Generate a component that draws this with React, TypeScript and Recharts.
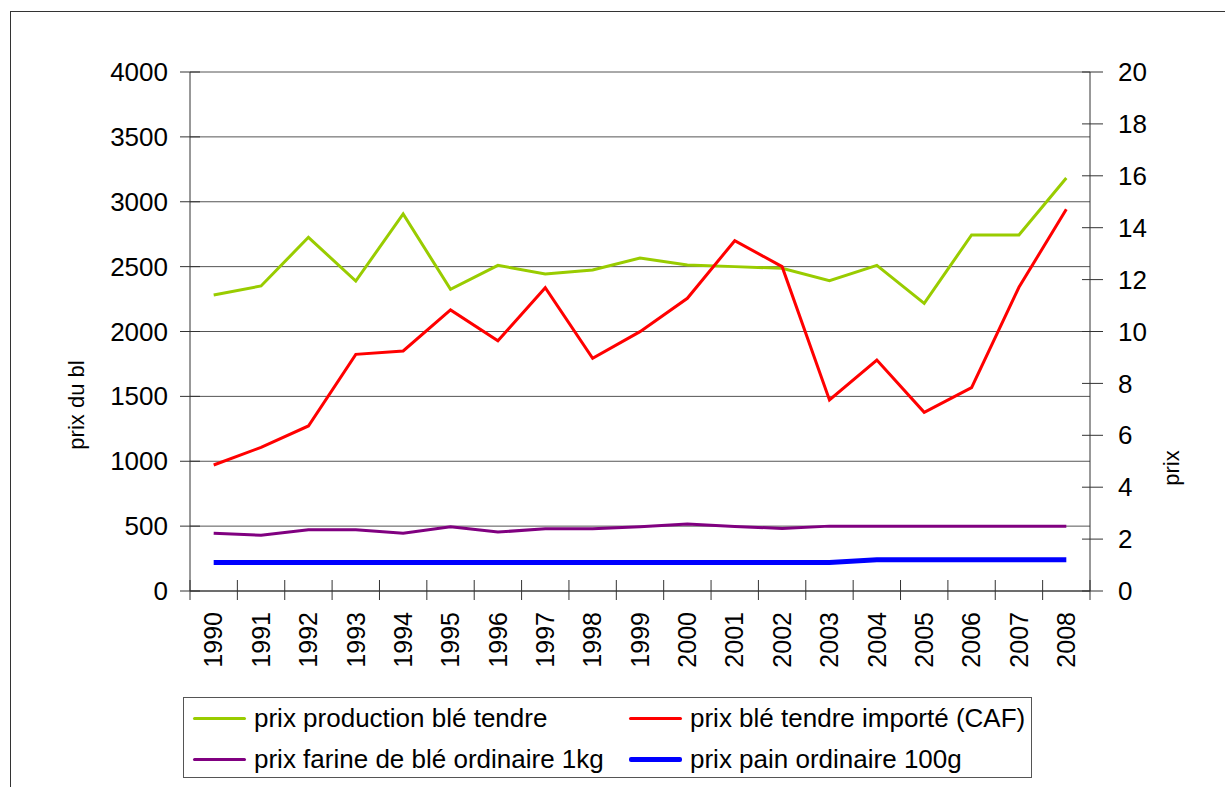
import { ComposedChart, Line, XAxis, YAxis, CartesianGrid } from 'recharts';

const years = ['1990', '1991', '1992', '1993', '1994', '1995', '1996', '1997', '1998', '1999', '2000', '2001', '2002', '2003', '2004', '2005', '2006', '2007', '2008'];
const prixProduction = [2281, 2351, 2726, 2389, 2906, 2325, 2510, 2443, 2474, 2566, 2512, 2500, 2487, 2392, 2510, 2217, 2744, 2744, 3183];
const prixImporte = [971, 1107, 1272, 1824, 1850, 2166, 1929, 2338, 1793, 1999, 2256, 2700, 2500, 1472, 1780, 1377, 1567, 2341, 2942];
const prixFarine = [2.23, 2.15, 2.36, 2.36, 2.23, 2.48, 2.27, 2.4, 2.4, 2.48, 2.58, 2.49, 2.41, 2.5, 2.5, 2.5, 2.5, 2.5, 2.5];
const prixPain = [1.1, 1.1, 1.1, 1.1, 1.1, 1.1, 1.1, 1.1, 1.1, 1.1, 1.1, 1.1, 1.1, 1.1, 1.2, 1.2, 1.2, 1.2, 1.2];

const leftTicks = [0, 500, 1000, 1500, 2000, 2500, 3000, 3500, 4000];
const rightTicks = [0, 2, 4, 6, 8, 10, 12, 14, 16, 18, 20];

const series = [
  { key: 'production', name: 'prix production blé tendre', color: '#99CC00', width: 3, axis: 0 },
  { key: 'importe', name: 'prix blé tendre importé (CAF)', color: '#FF0000', width: 3, axis: 0 },
  { key: 'farine', name: 'prix farine de blé ordinaire 1kg', color: '#800080', width: 3, axis: 'right' },
  { key: 'pain', name: 'prix pain ordinaire 100g', color: '#0000FF', width: 5, axis: 'right' },
];

const data = years.map((year, i) => ({
  year,
  production: prixProduction[i],
  importe: prixImporte[i],
  farine: prixFarine[i],
  pain: prixPain[i],
}));

const FONT = '"Liberation Sans", Arial, sans-serif';
const PLOT_W = 900;
const BAND = PLOT_W / years.length;

const LeftTick = ({ x, y, payload }: any) => (
  <g>
    <line x1={x - 10} x2={x + 10} y1={y} y2={y} stroke="#333" />
    <text x={x - 22} y={y} dy="0.35em" textAnchor="end" fontSize={26} fontFamily={FONT} fill="#000">
      {payload.value}
    </text>
  </g>
);

const RightTick = ({ x, y, payload }: any) => (
  <g>
    <line x1={x - 8} x2={x + 13} y1={y} y2={y} stroke="#333" />
    <text x={x + 28} y={y} dy="0.35em" textAnchor="start" fontSize={26} fontFamily={FONT} fill="#000">
      {payload.value}
    </text>
  </g>
);

const YearTick = ({ x, y, payload, index }: any) => (
  <g>
    <line x1={x - BAND / 2} x2={x - BAND / 2} y1={y - 11} y2={y + 9} stroke="#333" />
    {index === years.length - 1 && (
      <line x1={x + BAND / 2} x2={x + BAND / 2} y1={y - 11} y2={y + 9} stroke="#333" />
    )}
    <text
      x={x}
      y={y + 21}
      dy="0.35em"
      textAnchor="end"
      fontSize={25}
      fontFamily={FONT}
      fill="#000"
      transform={`rotate(-90, ${x}, ${y + 21})`}
    >
      {payload.value}
    </text>
  </g>
);

export default function App() {
  return (
    <div style={{ position: 'absolute', left: 0, top: 0, width: 1225, height: 787, overflow: 'hidden', background: '#fff', fontFamily: FONT }}>
      <div style={{ position: 'absolute', left: 10, top: 11, width: 1400, height: 900, border: '1px solid #333' }} />

      <div style={{ position: 'absolute', left: 0, top: 0 }}>
        <ComposedChart width={1225} height={700} data={data} margin={{ top: 72, right: 55, bottom: 29, left: 110 }}>
          <CartesianGrid vertical={false} stroke="#555" />
          <XAxis
            dataKey="year"
            scale="band"
            interval={0}
            height={80}
            tickLine={false}
            tickSize={0}
            tickMargin={0}
            stroke="#333"
            tick={<YearTick />}
          />
          <YAxis
            domain={[0, 4000]}
            ticks={leftTicks}
            width={80}
            tickLine={false}
            tickSize={0}
            tickMargin={0}
            stroke="#333"
            tick={<LeftTick />}
          />
          <YAxis
            yAxisId="right"
            orientation="right"
            domain={[0, 20]}
            ticks={rightTicks}
            width={80}
            tickLine={false}
            tickSize={0}
            tickMargin={0}
            stroke="#333"
            tick={<RightTick />}
          />
          {series.map((s) => (
            <Line
              key={s.key}
              yAxisId={s.axis}
              dataKey={s.key}
              name={s.name}
              stroke={s.color}
              strokeWidth={s.width}
              dot={false}
              type="linear"
              isAnimationActive={false}
            />
          ))}
        </ComposedChart>
      </div>

      {/* axis titles */}
      <div style={{ position: 'absolute', left: 77, top: 405, transform: 'translate(-50%, -50%) rotate(-90deg)', fontSize: 22, whiteSpace: 'nowrap', color: '#000' }}>
        prix du bl
      </div>
      <div style={{ position: 'absolute', left: 1172, top: 468, transform: 'translate(-50%, -50%) rotate(-90deg)', fontSize: 22, whiteSpace: 'nowrap', color: '#000' }}>
        prix
      </div>

      {/* legend */}
      <div style={{ position: 'absolute', left: 183, top: 697, width: 849, height: 81, boxSizing: 'border-box', border: '1.5px solid #555', background: '#fff' }}>
        {series.map((s, i) => (
          <div
            key={s.key}
            style={{
              position: 'absolute',
              left: i % 2 === 0 ? 9 : 445,
              top: i < 2 ? 20 : 61,
              transform: 'translateY(-50%)',
              display: 'flex',
              alignItems: 'center',
              whiteSpace: 'nowrap',
            }}
          >
            <div style={{ width: 53, height: s.width, background: s.color, borderRadius: 2 }} />
            <span style={{ marginLeft: 8, fontSize: 26, color: '#000', lineHeight: '30px' }}>{s.name}</span>
          </div>
        ))}
      </div>
    </div>
  );
}
